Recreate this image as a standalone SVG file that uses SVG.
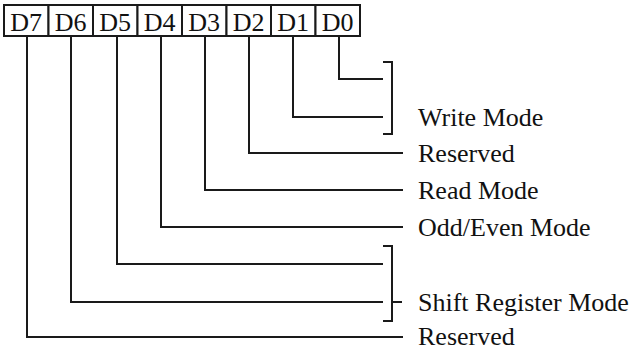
<svg xmlns="http://www.w3.org/2000/svg" width="641" height="351" viewBox="0 0 641 351">
<style>
.cell{fill:#fff;stroke:#1a1a1a;stroke-width:2}
.lbl{font-family:"Liberation Serif","Times New Roman",serif;font-size:26px;fill:#111}
.bit{font-family:"Liberation Serif","Times New Roman",serif;font-size:26px;fill:#111;text-anchor:middle}
.wire{fill:none;stroke:#1a1a1a;stroke-width:2}
</style>
<rect width="641" height="351" fill="#fff"/>
<g id="register">
<g id="b7"><rect class="cell" x="4" y="5" width="44.5" height="31"/><text class="bit" x="26.2" y="31">D7</text></g>
<g id="b6"><rect class="cell" x="48.5" y="5" width="44.5" height="31"/><text class="bit" x="70.7" y="31">D6</text></g>
<g id="b5"><rect class="cell" x="93" y="5" width="44.5" height="31"/><text class="bit" x="115.2" y="31">D5</text></g>
<g id="b4"><rect class="cell" x="137.5" y="5" width="44.5" height="31"/><text class="bit" x="159.7" y="31">D4</text></g>
<g id="b3"><rect class="cell" x="182" y="5" width="44.5" height="31"/><text class="bit" x="204.2" y="31">D3</text></g>
<g id="b2"><rect class="cell" x="226.5" y="5" width="44.5" height="31"/><text class="bit" x="248.7" y="31">D2</text></g>
<g id="b1"><rect class="cell" x="271" y="5" width="44.5" height="31"/><text class="bit" x="293.2" y="31">D1</text></g>
<g id="b0"><rect class="cell" x="315.5" y="5" width="44.5" height="31"/><text class="bit" x="337.7" y="31">D0</text></g>
</g>
<g id="connectors">
<path class="wire" d="M339 36V79H383"/>
<path class="wire" d="M293 36V117H383"/>
<path class="wire" d="M383 62H392V134H383"/>
<path class="wire" d="M249 36V153H403"/>
<path class="wire" d="M205 36V190H403"/>
<path class="wire" d="M161 36V227H403"/>
<path class="wire" d="M117 36V264H383"/>
<path class="wire" d="M71 36V302H383"/>
<path class="wire" d="M383 246H392V321H383M392 302H402"/>
<path class="wire" d="M27 36V337H403"/>
</g>
<g id="labels">
<text class="lbl" x="418" y="126">Write Mode</text>
<text class="lbl" x="418" y="162">Reserved</text>
<text class="lbl" x="418" y="199">Read Mode</text>
<text class="lbl" x="418" y="236">Odd/Even Mode</text>
<text class="lbl" x="418" y="311">Shift Register Mode</text>
<text class="lbl" x="418" y="345">Reserved</text>
</g>
</svg>
